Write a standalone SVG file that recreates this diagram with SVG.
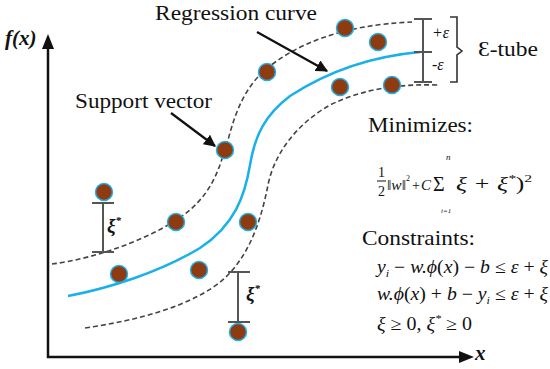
<svg xmlns="http://www.w3.org/2000/svg" width="550" height="369" viewBox="0 0 550 369">
<style>
.dot{fill:#8E3B12;stroke:#1EB0E6;stroke-width:1.5}
.dash{fill:none;stroke:#444;stroke-width:1.6;stroke-dasharray:5,3}
.bar{fill:none;stroke:#555;stroke-width:2}
.ax{fill:none;stroke:#111;stroke-width:2.5}
.arr{fill:none;stroke:#111;stroke-width:2.2}
</style>
<defs>
<marker id="ah" viewBox="0 0 10 10" refX="9" refY="5" markerWidth="12" markerHeight="12" markerUnits="userSpaceOnUse" orient="auto">
<path d="M0,0 L10,5 L0,10 z" fill="#111"/>
</marker>
</defs>
<rect width="550" height="369" fill="#fff"/>
<g font-family="'Liberation Serif', 'DejaVu Serif', serif" fill="#111">
<g id="axes">
<path class="ax" d="M48,44 L48,357 L462,357"/>
<path d="M48,34 L42,49 L54,49 z" fill="#111"/>
<path d="M474,357 L459,351 L459,363 z" fill="#111"/>
<text x="5" y="45" font-size="21" font-weight="bold" font-style="italic">f(x)</text>
<text x="475" y="360" font-size="21" font-weight="bold" font-style="italic">x</text>
</g>
<g id="curves">
<path class="dash" d="M52,264 C100,258 160,235 190,210 C215,188 220,165 228,140 C236,110 245,88 265,70 C295,45 340,25 412,22"/>
<path d="M68,296 C110,288 160,272 200,248 C235,225 245,195 250,165 C255,135 265,115 290,96 C330,70 375,56 420,52" fill="none" stroke="#1AB0E8" stroke-width="2.5"/>
<path class="dash" d="M85,328 C140,320 195,305 225,278 C252,252 262,215 268,185 C274,155 295,125 330,105 C365,88 400,84 438,85"/>
</g>
<g id="points">
<circle class="dot" cx="267" cy="72" r="8.5"/>
<circle class="dot" cx="345" cy="28" r="8.5"/>
<circle class="dot" cx="378" cy="42" r="8.5"/>
<circle class="dot" cx="340" cy="87" r="8.5"/>
<circle class="dot" cx="392" cy="85" r="8.5"/>
<circle class="dot" cx="225" cy="150" r="8.5"/>
<circle class="dot" cx="104" cy="192" r="8.5"/>
<circle class="dot" cx="176" cy="222" r="8.5"/>
<circle class="dot" cx="248" cy="222" r="8.5"/>
<circle class="dot" cx="119" cy="274" r="8.5"/>
<circle class="dot" cx="199" cy="270" r="8.5"/>
<circle class="dot" cx="238" cy="332" r="8.5"/>
</g>
<g id="slack">
<path class="bar" d="M103,203 L103,252 M92,203 L114,203 M92,252 L114,252"/>
<text x="107" y="232" font-size="19" font-weight="bold" font-style="italic">ξ<tspan font-size="11" dy="-8">*</tspan></text>
<path class="bar" d="M238,272 L238,322 M228,272 L250,272 M228,322 L250,322"/>
<text x="246" y="300" font-size="19" font-weight="bold" font-style="italic">ξ<tspan font-size="11" dy="-8">*</tspan></text>
</g>
<g id="tube">
<path class="bar" d="M423,19 L423,82 M414,19 L432,19 M414,52 L432,52 M414,82 L432,82"/>
<text x="432" y="38" font-size="16" font-style="italic">+ε</text>
<text x="432" y="70" font-size="16" font-style="italic">-ε</text>
<path d="M450,17 L457,17 L457,47 L462,51 L457,55 L457,82 L450,82" fill="none" stroke="#333" stroke-width="1.6"/>
<text x="478" y="56" font-size="21" textLength="60" lengthAdjust="spacingAndGlyphs">Ɛ-tube</text>
</g>
<g id="labels">
<text x="155" y="20" font-size="20" textLength="162" lengthAdjust="spacingAndGlyphs">Regression curve</text>
<path class="arr" d="M257,32 L327,71" marker-end="url(#ah)"/>
<text x="75" y="108" font-size="20" textLength="137" lengthAdjust="spacingAndGlyphs">Support vector</text>
<path class="arr" d="M171,113 L215,146" marker-end="url(#ah)"/>
</g>
<g id="objective">
<text x="368" y="132" font-size="21" textLength="105" lengthAdjust="spacingAndGlyphs">Minimizes:</text>
<text x="378" y="177" font-size="14">1</text>
<line x1="377" y1="181" x2="386" y2="181" stroke="#111" stroke-width="1"/>
<text x="378" y="196" font-size="14">2</text>
<text x="387" y="190" font-size="14" font-style="italic" textLength="19" lengthAdjust="spacingAndGlyphs">‖w‖</text>
<text x="406" y="181" font-size="8">2</text>
<text x="412" y="190" font-size="14" textLength="8" lengthAdjust="spacingAndGlyphs">+</text>
<text x="421" y="190" font-size="15" font-style="italic" textLength="10" lengthAdjust="spacingAndGlyphs">C</text>
<text x="433" y="191" font-size="20">Σ</text>
<text x="446" y="160" font-size="9" font-style="italic">n</text>
<text x="441" y="213" font-size="7" font-style="italic">i=1</text>
<text x="456" y="190" font-size="18" font-style="italic" textLength="76" lengthAdjust="spacingAndGlyphs">ξ + ξ<tspan font-size="11" dy="-8">*</tspan><tspan dy="8" font-style="normal">)</tspan><tspan font-style="normal" font-size="11" dy="-8">2</tspan></text>
</g>
<g id="constraints">
<text x="362" y="245" font-size="21" textLength="113" lengthAdjust="spacingAndGlyphs">Constraints:</text>
<text x="377" y="273" font-size="18" font-style="italic" textLength="171" lengthAdjust="spacingAndGlyphs">y<tspan font-size="11" dy="4">i</tspan><tspan dy="-4" font-style="normal"> − </tspan>w.ϕ<tspan font-style="normal">(</tspan>x<tspan font-style="normal">) − </tspan>b<tspan font-style="normal"> ≤ </tspan>ε<tspan font-style="normal"> + </tspan>ξ</text>
<text x="377" y="300" font-size="18" font-style="italic" textLength="171" lengthAdjust="spacingAndGlyphs">w.ϕ<tspan font-style="normal">(</tspan>x<tspan font-style="normal">) + </tspan>b<tspan font-style="normal"> − </tspan>y<tspan font-size="11" dy="4">i</tspan><tspan dy="-4" font-style="normal"> ≤ </tspan>ε<tspan font-style="normal"> + </tspan>ξ</text>
<text x="377" y="330" font-size="18" font-style="italic" textLength="95" lengthAdjust="spacingAndGlyphs">ξ<tspan font-style="normal"> ≥ 0, </tspan>ξ<tspan font-size="11" dy="-8">*</tspan><tspan dy="8" font-style="normal"> ≥ 0</tspan></text>
</g>
</g>
</svg>
